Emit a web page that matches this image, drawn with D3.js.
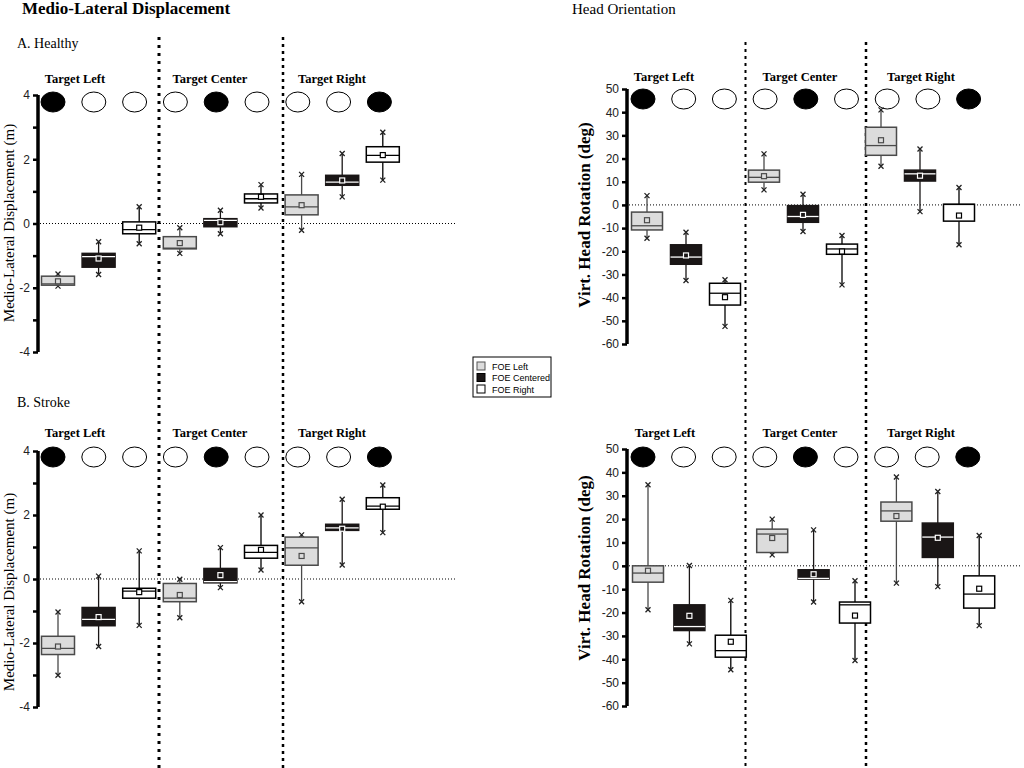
<!DOCTYPE html>
<html>
<head>
<meta charset="utf-8">
<script src="https://cdn.jsdelivr.net/npm/d3@7"></script>
<style>
body { margin: 0; background: #fff; }
svg { display: block; }
</style>
</head>
<body>
<svg width="1024" height="768"></svg>
<script>
var svg = d3.select("svg");

// data
var targets = ["Target Left", "Target Center", "Target Right"];
var foe = ["FOE Left", "FOE Centered", "FOE Right"];
var mlTicks = [-4, -3, -2, -1, 0, 1, 2, 3, 4];
var headTicks = [-60, -50, -40, -30, -20, -10, 0, 10, 20, 30, 40, 50];

// each box: [whisker low, q1, median, q3, whisker high, mean]
var mlHealthy = [
    [-1.95, -1.92, -1.88, -1.64, -1.57, -1.80],
    [-1.59, -1.36, -1.03, -0.93, -0.57, -1.09],
    [-0.63, -0.32, -0.19, 0.05, 0.52, -0.13],
    [-0.93, -0.79, -0.77, -0.41, -0.13, -0.61],
    [-0.32, -0.10, 0.10, 0.15, 0.41, 0.04],
    [0.48, 0.64, 0.77, 0.92, 1.21, 0.83],
    [-0.21, 0.27, 0.52, 0.89, 1.53, 0.57],
    [0.83, 1.19, 1.29, 1.50, 2.18, 1.34],
    [1.35, 1.91, 2.12, 2.39, 2.84, 2.13]
];
var mlStroke = [
    [-3.01, -2.36, -2.17, -1.79, -1.03, -2.11],
    [-2.11, -1.46, -1.26, -0.89, 0.09, -1.19],
    [-1.45, -0.60, -0.38, -0.29, 0.88, -0.41],
    [-1.21, -0.71, -0.60, -0.14, -0.01, -0.50],
    [-0.27, -0.12, -0.08, 0.33, 0.98, 0.12],
    [0.28, 0.65, 0.83, 1.05, 2.00, 0.91],
    [-0.71, 0.43, 0.97, 1.31, 1.38, 0.72],
    [0.44, 1.52, 1.60, 1.71, 2.49, 1.57],
    [1.45, 2.18, 2.28, 2.54, 2.94, 2.26]
];
var headHealthy = [
    [-14.4, -10.8, -9.0, -3.1, 4.0, -6.6],
    [-32.6, -25.6, -22.5, -17.2, -11.8, -21.8],
    [-52.4, -43.2, -38.1, -33.8, -32.3, -39.8],
    [6.5, 9.8, 11.9, 15.0, 22.0, 12.4],
    [-11.5, -7.5, -5.0, -0.3, 4.6, -4.3],
    [-34.5, -21.3, -19.0, -16.9, -13.2, -20.1],
    [16.7, 21.4, 25.6, 33.5, 41.0, 27.9],
    [-2.9, 10.3, 13.4, 15.0, 24.1, 12.6],
    [-17.2, -7.0, 0.2, 0.3, 7.5, -4.6]
];
var headStroke = [
    [-18.8, -7.0, -3.1, 0.0, 34.7, -2.1],
    [-33.4, -27.7, -26.0, -16.7, 0.1, -21.4],
    [-44.5, -39.1, -36.3, -29.7, -14.8, -32.5],
    [4.7, 5.7, 13.6, 15.7, 20.0, 11.9],
    [-15.5, -5.7, -5.4, -1.7, 15.4, -3.6],
    [-40.5, -24.5, -16.7, -15.5, -6.4, -21.3],
    [-7.4, 19.1, 23.5, 27.3, 38.0, 21.3],
    [-8.9, 3.6, 12.3, 18.3, 31.8, 12.0],
    [-25.6, -18.1, -12.1, -4.3, 13.0, -9.8]
];

var fills = ["#dcdcdc", "#1a1616", "#ffffff"];
var strokes = ["#4a4a4a", "#1a1616", "#000000"];
var inner = ["#4a4a4a", "#ffffff", "#000000"];

var serif = "'Liberation Serif', 'Times New Roman', serif";
var sans = "'Liberation Sans', Arial, sans-serif";

// titles
svg.append("text").attr("x", 22).attr("y", 14)
    .style("font-family", serif).style("font-weight", "bold").style("font-size", "17px")
    .text("Medio-Lateral Displacement");
svg.append("text").attr("x", 572).attr("y", 14)
    .style("font-family", serif).style("font-size", "15px")
    .text("Head Orientation");
svg.append("text").attr("x", 17).attr("y", 48)
    .style("font-family", serif).style("font-size", "14px").text("A. Healthy");
svg.append("text").attr("x", 17).attr("y", 407)
    .style("font-family", serif).style("font-size", "14px").text("B. Stroke");

// group dividers
var dividers = [
    {x: 159, y0: 37, w: 3, dash: "3,5"},
    {x: 283, y0: 37, w: 2.5, dash: "3,4"},
    {x: 745.5, y0: 42, w: 2, dash: "3,4"},
    {x: 866, y0: 42, w: 2.5, dash: "3,4"}
];
svg.append("g").selectAll("line").data(dividers).enter().append("line")
    .attr("x1", function(d){ return d.x; })
    .attr("x2", function(d){ return d.x; })
    .attr("y1", function(d){ return d.y0; })
    .attr("y2", 768)
    .attr("stroke", "#000")
    .attr("stroke-width", function(d){ return d.w; })
    .attr("stroke-dasharray", function(d){ return d.dash; });

var panels = [
    {data: mlHealthy, ticks: mlTicks, domain: [-4, 4], range: [352, 95], axisX: 38, zeroEnd: 455,
     box0: 58, boxStep: 40.6, boxW: 33, circ0: 53, circStep: 40.8, circY: 102,
     labelY: 83, labelX: [75, 210, 332], title: "Medio-Lateral Displacement (m)", titleX: 9, titleY: 223,
     titleSize: 15, titleBold: false, labelEven: true},
    {data: mlStroke, ticks: mlTicks, domain: [-4, 4], range: [707, 451], axisX: 38, zeroEnd: 455,
     box0: 58, boxStep: 40.6, boxW: 33, circ0: 53, circStep: 40.8, circY: 457,
     labelY: 437, labelX: [75, 210, 332], title: "Medio-Lateral Displacement (m)", titleX: 9, titleY: 592,
     titleSize: 15, titleBold: false, labelEven: true},
    {data: headHealthy, ticks: headTicks, domain: [-60, 50], range: [344, 89], axisX: 627, zeroEnd: 1020,
     box0: 647, boxStep: 39, boxW: 31, circ0: 643, circStep: 40.7, circY: 99,
     labelY: 81, labelX: [664, 800, 921], title: "Virt. Head Rotation (deg)", titleX: 584, titleY: 215,
     titleSize: 17, titleBold: true, labelEven: false},
    {data: headStroke, ticks: headTicks, domain: [-60, 50], range: [706, 449], axisX: 627, zeroEnd: 1020,
     box0: 648, boxStep: 41.4, boxW: 31, circ0: 643, circStep: 40.6, circY: 457,
     labelY: 437, labelX: [665, 800, 921], title: "Virt. Head Rotation (deg)", titleX: 584, titleY: 568,
     titleSize: 17, titleBold: true, labelEven: false}
];

panels.forEach(drawPanel);

function drawPanel(p){
    var y = d3.scaleLinear().domain(p.domain).range(p.range);
    var xBox = d3.scaleLinear().domain([0, 1]).range([p.box0, p.box0 + p.boxStep]);
    var xCirc = d3.scaleLinear().domain([0, 1]).range([p.circ0, p.circ0 + p.circStep]);
    var g = svg.append("g");

    // zero line
    g.append("line")
        .attr("x1", p.axisX + 2).attr("x2", p.zeroEnd)
        .attr("y1", y(0)).attr("y2", y(0))
        .attr("stroke", "#000").attr("stroke-width", 1)
        .attr("stroke-dasharray", "1,2");

    // axis
    var axis = d3.axisLeft(y).tickValues(p.ticks).tickSize(5).tickPadding(3)
        .tickFormat(function(d){
            if (p.labelEven && d % 2 !== 0) return "";
            return d;
        });
    var ax = g.append("g").attr("transform", "translate(" + p.axisX + ",0)").call(axis);
    ax.select(".domain").attr("stroke-width", 3.5).attr("d", "M0," + p.range[1] + "V" + p.range[0]);
    ax.selectAll(".tick line").attr("stroke-width", 2.5);
    ax.selectAll(".tick text")
        .style("font-family", sans).style("font-size", "12px").attr("fill", "#222");

    // axis title
    g.append("text")
        .attr("transform", "translate(" + p.titleX + "," + p.titleY + ") rotate(-90)")
        .attr("text-anchor", "middle").attr("dy", "0.35em")
        .style("font-family", serif).style("font-size", p.titleSize + "px")
        .style("font-weight", p.titleBold ? "bold" : "normal")
        .text(p.title);

    // group labels
    g.selectAll(".glabel").data(targets).enter().append("text")
        .attr("x", function(d, i){ return p.labelX[i]; })
        .attr("y", p.labelY)
        .attr("text-anchor", "middle")
        .style("font-family", serif).style("font-weight", "bold").style("font-size", "12.5px")
        .text(function(d){ return d; });

    // target circles
    g.selectAll("ellipse").data(d3.range(9)).enter().append("ellipse")
        .attr("cx", function(d){ return xCirc(d); })
        .attr("cy", p.circY)
        .attr("rx", 12).attr("ry", 10)
        .attr("fill", function(d){ return d % 4 === 0 ? "#000" : "#fff"; })
        .attr("stroke", "#000").attr("stroke-width", 1);

    // boxes
    var box = g.selectAll(".box").data(p.data).enter().append("g")
        .attr("transform", function(d, i){ return "translate(" + xBox(i) + ",0)"; });
    var hw = p.boxW / 2;

    box.append("line").attr("x1", 0).attr("x2", 0)
        .attr("y1", function(d){ return y(d[0]); })
        .attr("y2", function(d){ return y(d[1]); })
        .attr("stroke", function(d, i){ return strokes[i % 3]; }).attr("stroke-width", 1.3);
    box.append("line").attr("x1", 0).attr("x2", 0)
        .attr("y1", function(d){ return y(d[3]); })
        .attr("y2", function(d){ return y(d[4]); })
        .attr("stroke", function(d, i){ return strokes[i % 3]; }).attr("stroke-width", 1.3);

    // whisker end crosses
    [0, 4].forEach(function(k){
        box.append("path")
            .attr("d", function(d){
                var c = y(d[k]);
                return "M-2.5," + (c - 2.5) + "L2.5," + (c + 2.5) + "M-2.5," + (c + 2.5) + "L2.5," + (c - 2.5);
            })
            .attr("stroke", "#222").attr("stroke-width", 1.3).attr("fill", "none");
    });

    box.append("rect")
        .attr("x", -hw).attr("width", p.boxW)
        .attr("y", function(d){ return y(d[3]); })
        .attr("height", function(d){ return Math.max(1, y(d[1]) - y(d[3])); })
        .attr("fill", function(d, i){ return fills[i % 3]; })
        .attr("stroke", function(d, i){ return strokes[i % 3]; })
        .attr("stroke-width", 1.5);

    box.append("line")
        .attr("x1", -hw).attr("x2", hw)
        .attr("y1", function(d){ return y(d[2]); })
        .attr("y2", function(d){ return y(d[2]); })
        .attr("stroke", function(d, i){ return inner[i % 3]; }).attr("stroke-width", 1.3);

    box.append("rect")
        .attr("x", -2.5).attr("width", 5).attr("height", 5)
        .attr("y", function(d){ return y(d[5]) - 2.5; })
        .attr("fill", function(d, i){ return fills[i % 3]; })
        .attr("stroke", function(d, i){ return inner[i % 3]; })
        .attr("stroke-width", 1.2);
}

// legend
var legend = svg.append("g").attr("transform", "translate(473,357)");
legend.append("rect").attr("width", 78).attr("height", 40)
    .attr("fill", "#fff").attr("stroke", "#000").attr("stroke-width", 1);
var item = legend.selectAll(".item").data(foe).enter().append("g")
    .attr("transform", function(d, i){ return "translate(4," + (5 + i * 11.5) + ")"; });
item.append("rect").attr("width", 8).attr("height", 8)
    .attr("fill", function(d, i){ return fills[i]; })
    .attr("stroke", function(d, i){ return i === 0 ? "#555" : "#000"; })
    .attr("stroke-width", 1);
item.append("text").attr("x", 15).attr("y", 7.5)
    .style("font-family", sans).style("font-size", "9px")
    .text(function(d){ return d; });
</script>
</body>
</html>
